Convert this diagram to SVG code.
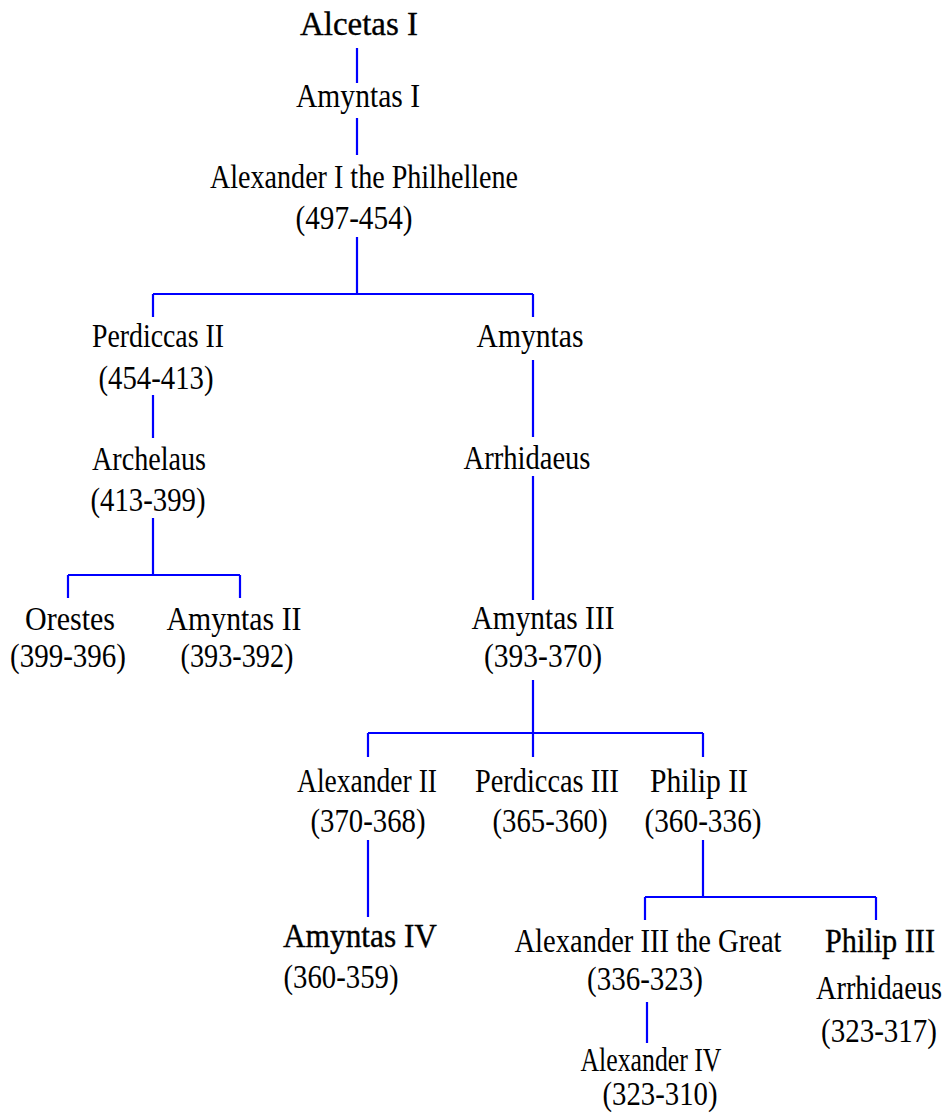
<svg xmlns="http://www.w3.org/2000/svg" width="944" height="1116" viewBox="0 0 944 1116">
<style>
text{font-family:"Liberation Serif","Times New Roman",serif;font-size:33px;fill:#000;text-anchor:middle}
.b{stroke:#000;stroke-width:0.35px}
.c{stroke:#0000ff;stroke-width:2.2;fill:none}
</style>
<rect width="944" height="1116" fill="#fff"/>
<g id="connectors" class="c">
<path d="M357 48V83M357 118V155M357 237V294M153 294H533M153 294V317M533 294V317"/>
<path d="M153 395V438M153 518V575M68 575H240M68 575V598M240 575V598"/>
<path d="M533 360V437M533 476V600M533 680V733M368 733H703M368 733V757M533 733V757M703 733V757"/>
<path d="M368 840V917M703 840V897M645 897H876M645 897V920M876 897V920M647 1002V1043"/>
</g>
<g id="alcetas1"><text class="b" x="359" y="35" textLength="118" lengthAdjust="spacingAndGlyphs">Alcetas I</text></g>
<g id="amyntas1"><text x="358" y="107" textLength="124" lengthAdjust="spacingAndGlyphs">Amyntas I</text></g>
<g id="alexander1"><text x="364" y="188" textLength="308" lengthAdjust="spacingAndGlyphs">Alexander I the Philhellene</text><text x="354" y="229" textLength="117" lengthAdjust="spacingAndGlyphs">(497-454)</text></g>
<g id="perdiccas2"><text x="158" y="347" textLength="132" lengthAdjust="spacingAndGlyphs">Perdiccas II</text><text x="156" y="389" textLength="115" lengthAdjust="spacingAndGlyphs">(454-413)</text></g>
<g id="archelaus"><text x="149" y="470" textLength="114" lengthAdjust="spacingAndGlyphs">Archelaus</text><text x="148" y="511" textLength="115" lengthAdjust="spacingAndGlyphs">(413-399)</text></g>
<g id="orestes"><text x="70" y="630" textLength="90" lengthAdjust="spacingAndGlyphs">Orestes</text><text x="68" y="667" textLength="116" lengthAdjust="spacingAndGlyphs">(399-396)</text></g>
<g id="amyntas2"><text x="234" y="630" textLength="135" lengthAdjust="spacingAndGlyphs">Amyntas II</text><text x="237" y="667" textLength="113" lengthAdjust="spacingAndGlyphs">(393-392)</text></g>
<g id="amyntas"><text x="530" y="347" textLength="107" lengthAdjust="spacingAndGlyphs">Amyntas</text></g>
<g id="arrhidaeus"><text x="527" y="469" textLength="127" lengthAdjust="spacingAndGlyphs">Arrhidaeus</text></g>
<g id="amyntas3"><text x="543" y="629" textLength="143" lengthAdjust="spacingAndGlyphs">Amyntas III</text><text x="543" y="667" textLength="118" lengthAdjust="spacingAndGlyphs">(393-370)</text></g>
<g id="alexander2"><text x="367" y="792" textLength="140" lengthAdjust="spacingAndGlyphs">Alexander II</text><text x="368" y="832" textLength="115" lengthAdjust="spacingAndGlyphs">(370-368)</text></g>
<g id="perdiccas3"><text x="547" y="792" textLength="144" lengthAdjust="spacingAndGlyphs">Perdiccas III</text><text x="550" y="832" textLength="115" lengthAdjust="spacingAndGlyphs">(365-360)</text></g>
<g id="philip2"><text x="699" y="792" textLength="98" lengthAdjust="spacingAndGlyphs">Philip II</text><text x="703" y="832" textLength="117" lengthAdjust="spacingAndGlyphs">(360-336)</text></g>
<g id="amyntas4"><text class="b" x="360" y="947" textLength="154" lengthAdjust="spacingAndGlyphs">Amyntas IV</text><text x="341" y="988" textLength="115" lengthAdjust="spacingAndGlyphs">(360-359)</text></g>
<g id="alexander3"><text x="648" y="952" textLength="267" lengthAdjust="spacingAndGlyphs">Alexander III the Great</text><text x="645" y="990" textLength="116" lengthAdjust="spacingAndGlyphs">(336-323)</text></g>
<g id="alexander4"><text x="651" y="1071" textLength="141" lengthAdjust="spacingAndGlyphs">Alexander IV</text><text x="660" y="1105" textLength="115" lengthAdjust="spacingAndGlyphs">(323-310)</text></g>
<g id="philip3"><text class="b" x="880" y="952" textLength="110" lengthAdjust="spacingAndGlyphs">Philip III</text><text x="879" y="999" textLength="126" lengthAdjust="spacingAndGlyphs">Arrhidaeus</text><text x="879" y="1042" textLength="116" lengthAdjust="spacingAndGlyphs">(323-317)</text></g>
</svg>
